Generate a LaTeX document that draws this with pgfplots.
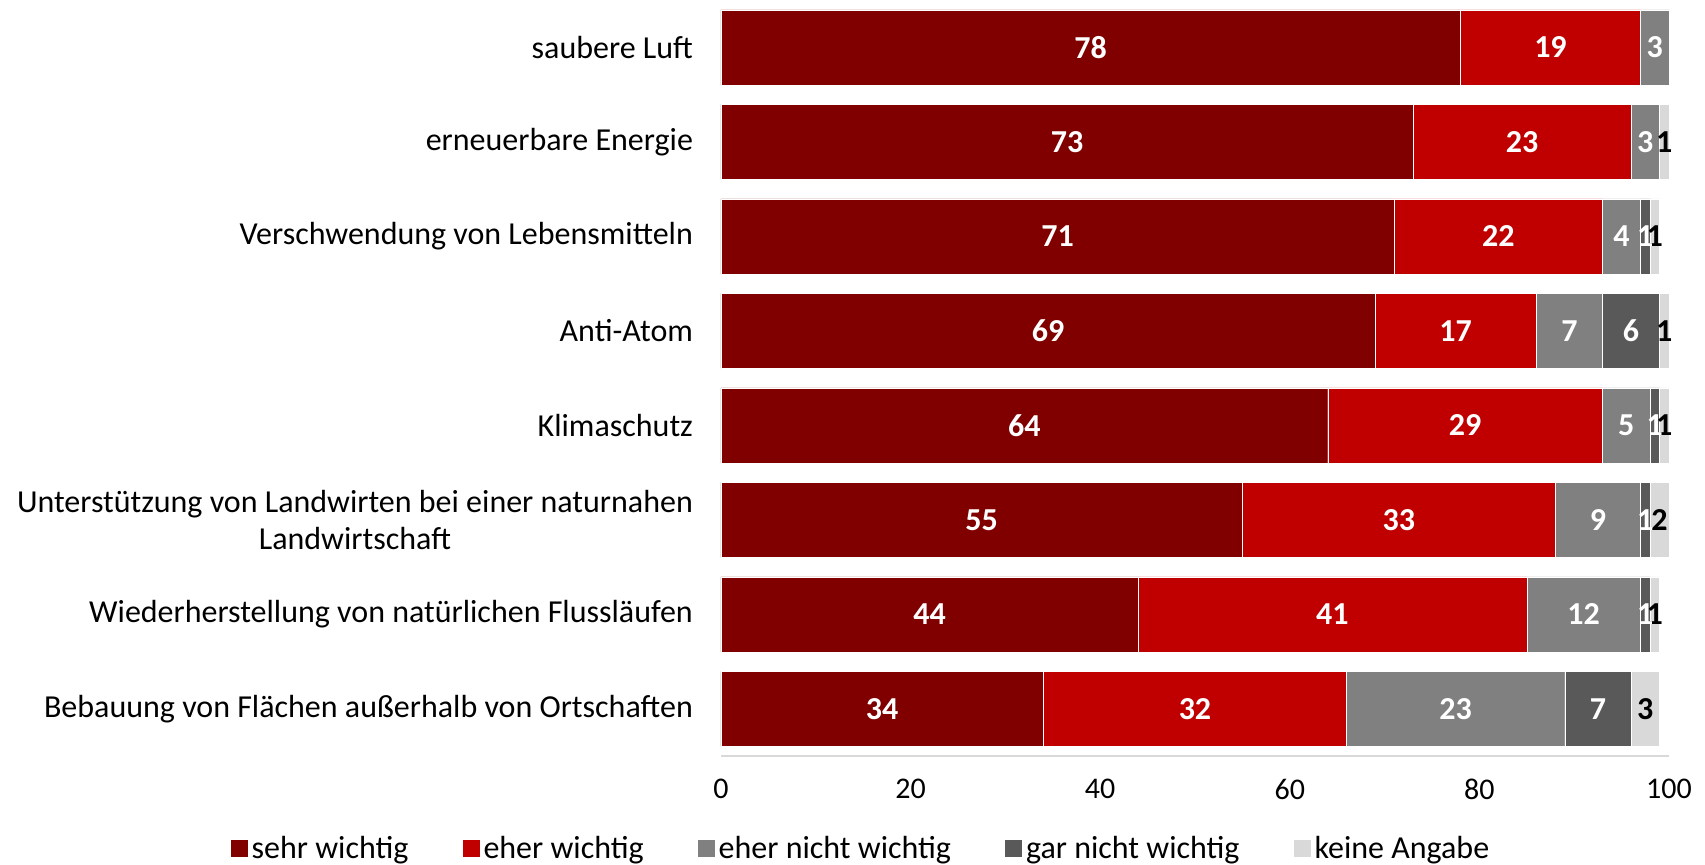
\documentclass[border=0pt]{standalone}
\usepackage{pgfplots}
\pgfplotsset{compat=1.18}
\usepackage{pgfplotstable}
\usepackage{fontspec}
\setmainfont{Carlito}
\definecolor{c1}{HTML}{800000}
\definecolor{c2}{HTML}{C00000}
\definecolor{c3}{HTML}{808080}
\definecolor{c4}{HTML}{595959}
\definecolor{c5}{HTML}{D9D9D9}
\definecolor{axc}{HTML}{D9D9D9}
\pgfplotstableread{
y a b c d e
8 78 19 3 0 0
7 73 23 3 0 1
6 71 22 4 1 1
5 69 17 7 6 1
4 64 29 5 1 1
3 55 33 9 1 2
2 44 41 12 1 1
1 34 32 23 7 3
}\data
\begin{document}
\begin{tikzpicture}
\begin{axis}[
  scale only axis,
  width=474pt, height=378pt,
  xbar stacked,
  bar width=37.5pt,
  xmin=0, xmax=100, ymin=0.5, ymax=8.5,
  enlargelimits=false,
  clip=false,
  axis lines*=left,
  y axis line style={draw=none},
  x axis line style={draw=axc, line width=1.2pt},
  xtick={0,20,...,100},
  ytick={1,...,8},
  yticklabels={Bebauung von Flächen außerhalb von Ortschaften,
    Wiederherstellung von natürlichen Flussläufen,
    {Unterstützung von Landwirten bei einer naturnahen\\Landwirtschaft},
    Klimaschutz, Anti-Atom, Verschwendung von Lebensmitteln,
    erneuerbare Energie, saubere Luft},
  major tick length=0pt,
  tick style={draw=none},
  /pgf/number format/assume math mode=true,
  xticklabel style={font=\fontsize{15}{18}\selectfont, yshift=-8pt},
  yticklabel style={font=\fontsize{16}{18.5}\selectfont, align=center, xshift=-10.5pt},
  point meta=explicit,
  nodes near coords={\pgfmathfloatifflags{\pgfplotspointmeta}{0}{}{\pgfmathprintnumber{\pgfplotspointmeta}}},
  every node near coord/.append style={anchor=center, text=white, font=\fontsize{16}{18}\selectfont\bfseries},
  legend columns=5,
  legend style={at={(0.1487,-0.123)}, anchor=center, draw=none, fill=none,
    font=\fontsize{16}{18}\selectfont,
    /tikz/every even column/.append style={column sep=25pt},
    /tikz/every odd column/.append style={column sep=0pt}},
  legend image code/.code={\fill[#1,draw=none] (0pt,-4.25pt) rectangle (8.5pt,4.25pt);},
]
\addplot[fill=c1, draw=white, line width=0.2pt] table[x=a, y=y, meta=a] {\data};
\addplot[fill=c2, draw=white, line width=0.2pt] table[x=b, y=y, meta=b] {\data};
\addplot[fill=c3, draw=white, line width=0.2pt] table[x=c, y=y, meta=c] {\data};
\addplot[fill=c4, draw=white, line width=0.2pt] table[x=d, y=y, meta=d] {\data};
\addplot[fill=c5, draw=white, line width=0.2pt, every node near coord/.append style={text=black}] table[x=e, y=y, meta=e] {\data};
\legend{sehr wichtig, eher wichtig, eher nicht wichtig, gar nicht wichtig, keine Angabe}
\end{axis}
\pgfresetboundingbox
\path[use as bounding box] (-360.5pt,-54pt) rectangle (492pt,378pt);
\end{tikzpicture}
\end{document}
